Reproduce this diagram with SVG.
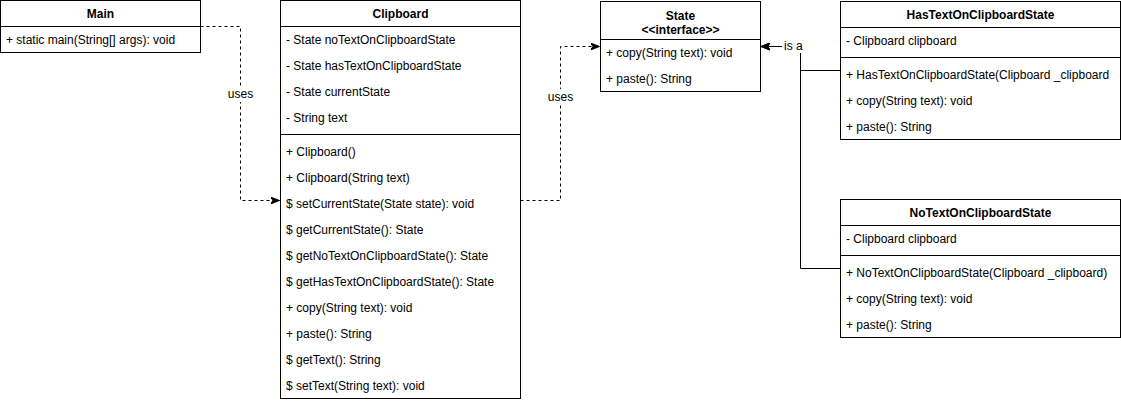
<svg xmlns="http://www.w3.org/2000/svg" width="1121" height="402" viewBox="0 0 1121 402">
<style>
.box{fill:#fff;stroke:#000;stroke-width:1}
.sep{stroke:#000;stroke-width:1;fill:none}
.t{font-family:"Liberation Sans",Arial,sans-serif;font-size:12px;fill:#000}
.b{font-weight:bold;text-anchor:middle}
.c{text-anchor:middle}
.edge{fill:none;stroke:#000;stroke-width:1}
.dash{stroke-dasharray:3 3}
.lbg{fill:#fff;stroke:none}
</style>
<defs>
<marker id="arr" markerWidth="10" markerHeight="8" refX="9" refY="4" orient="auto" markerUnits="userSpaceOnUse">
<path d="M0,0.5 L9,4 L0,7.5 L2.5,4 Z" fill="#000" stroke="#000" stroke-width="1" stroke-linejoin="miter"/>
</marker>
</defs>

<g id="connectors">
<path class="edge dash" d="M200.5,26.5 H240.5 V200.5 H279.5" marker-end="url(#arr)"/>
<rect class="lbg" x="227" y="86" width="27" height="16"/>
<text class="t c" x="240.5" y="98">uses</text>

<path class="edge dash" d="M520.5,200.5 H560.5 V46.5 H599.5" marker-end="url(#arr)"/>
<rect class="lbg" x="547" y="89" width="27" height="16"/>
<text class="t c" x="560.5" y="101">uses</text>

<path class="edge" d="M840,70.5 H800.5 V46.5 H761" marker-end="url(#arr)"/>
<path class="edge" d="M840,268.5 H800.5 V46.5 H761" marker-end="url(#arr)"/>
<rect class="lbg" x="782" y="37" width="28" height="16"/>
<text class="t" x="784" y="50">is a</text>
</g>

<g id="Main">
<rect class="box" x="0.5" y="0.5" width="200" height="52"/>
<line class="sep" x1="0.5" y1="26.5" x2="200.5" y2="26.5"/>
<text class="t b" x="100.5" y="18">Main</text>
<text class="t" x="6" y="44">+ static main(String[] args): void</text>
</g>

<g id="Clipboard">
<rect class="box" x="280.5" y="0.5" width="240" height="398"/>
<line class="sep" x1="280.5" y1="26.5" x2="520.5" y2="26.5"/>
<line class="sep" x1="280.5" y1="134.5" x2="520.5" y2="134.5"/>
<text class="t b" x="400.5" y="18">Clipboard</text>
<text class="t" x="286" y="44">- State noTextOnClipboardState</text>
<text class="t" x="286" y="70">- State hasTextOnClipboardState</text>
<text class="t" x="286" y="96">- State currentState</text>
<text class="t" x="286" y="122">- String text</text>
<text class="t" x="286" y="156">+ Clipboard()</text>
<text class="t" x="286" y="182">+ Clipboard(String text)</text>
<text class="t" x="286" y="208">$ setCurrentState(State state): void</text>
<text class="t" x="286" y="234">$ getCurrentState(): State</text>
<text class="t" x="286" y="260">$ getNoTextOnClipboardState(): State</text>
<text class="t" x="286" y="286">$ getHasTextOnClipboardState(): State</text>
<text class="t" x="286" y="312">+ copy(String text): void</text>
<text class="t" x="286" y="338">+ paste(): String</text>
<text class="t" x="286" y="364">$ getText(): String</text>
<text class="t" x="286" y="390">$ setText(String text): void</text>
</g>

<g id="State">
<rect class="box" x="600.5" y="1.5" width="160" height="90"/>
<line class="sep" x1="600.5" y1="39.5" x2="760.5" y2="39.5"/>
<text class="t b" x="680.5" y="20">State</text>
<text class="t b" x="680.5" y="34">&lt;&lt;interface&gt;&gt;</text>
<text class="t" x="606" y="57">+ copy(String text): void</text>
<text class="t" x="606" y="83">+ paste(): String</text>
</g>

<g id="HasTextOnClipboardState">
<rect class="box" x="840.5" y="1.5" width="280" height="138"/>
<line class="sep" x1="840.5" y1="27.5" x2="1120.5" y2="27.5"/>
<line class="sep" x1="840.5" y1="57.5" x2="1120.5" y2="57.5"/>
<text class="t b" x="980.5" y="19">HasTextOnClipboardState</text>
<text class="t" x="846" y="45">- Clipboard clipboard</text>
<text class="t" x="846" y="79">+ HasTextOnClipboardState(Clipboard _clipboard</text>
<text class="t" x="846" y="105">+ copy(String text): void</text>
<text class="t" x="846" y="131">+ paste(): String</text>
</g>

<g id="NoTextOnClipboardState">
<rect class="box" x="840.5" y="199.5" width="280" height="138"/>
<line class="sep" x1="840.5" y1="225.5" x2="1120.5" y2="225.5"/>
<line class="sep" x1="840.5" y1="255.5" x2="1120.5" y2="255.5"/>
<text class="t b" x="980.5" y="217">NoTextOnClipboardState</text>
<text class="t" x="846" y="243">- Clipboard clipboard</text>
<text class="t" x="846" y="277">+ NoTextOnClipboardState(Clipboard _clipboard)</text>
<text class="t" x="846" y="303">+ copy(String text): void</text>
<text class="t" x="846" y="329">+ paste(): String</text>
</g>
</svg>
